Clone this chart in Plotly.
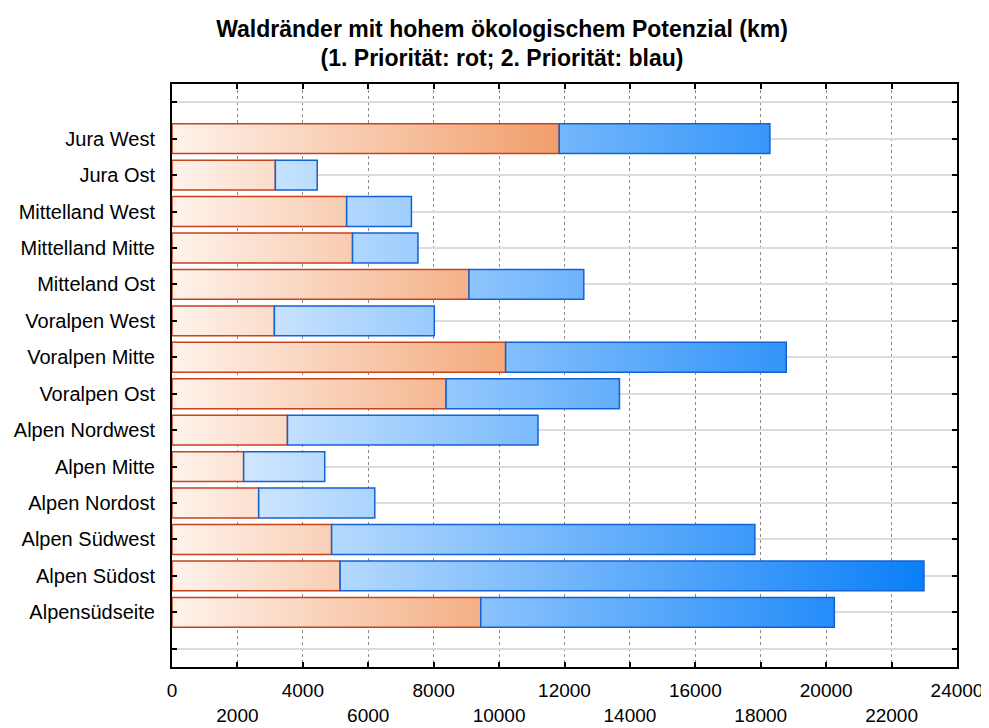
import plotly.graph_objects as go

# Waldränder mit hohem ökologischem Potenzial (km), von oben nach unten
regionen = ["Jura West", "Jura Ost", "Mittelland West", "Mittelland Mitte",
            "Mitteland Ost", "Voralpen West", "Voralpen Mitte", "Voralpen Ost",
            "Alpen Nordwest", "Alpen Mitte", "Alpen Nordost", "Alpen Südwest",
            "Alpen Südost", "Alpensüdseite"]
prio1 = [11840, 3160, 5340, 5520, 9080, 3130, 10200, 8380, 3530, 2190, 2650, 4880, 5140, 9440]
prio2 = [6440, 1280, 1980, 2000, 3510, 4890, 8580, 5300, 7660, 2480, 3550, 12940, 17850, 10810]

x_ticks = list(range(0, 24001, 2000))

n = len(regionen)
pos = [n - i for i in range(n)]          # Jura West oben
halb = 0.41                               # halbe Balkenhöhe


def rechtecke(start, laenge):
    xs, ys = [], []
    for s, l, y in zip(start, laenge, pos):
        xs += [s, s + l, s + l, s, s, None]
        ys += [y - halb, y - halb, y + halb, y + halb, y - halb, None]
    return xs, ys


x1, y1 = rechtecke([0] * n, prio1)
x2, y2 = rechtecke(prio1, prio2)

fig = go.Figure()
fig.add_trace(go.Scatter(
    x=x1, y=y1, mode="lines", fill="toself", name="1. Priorität",
    line=dict(color="#c8421c", width=1.5),
    fillgradient=dict(type="horizontal", start=0, stop=12000,
                      colorscale=[[0, "#fef3ec"], [1, "#f19d69"]]),
    hoverinfo="skip"))
fig.add_trace(go.Scatter(
    x=x2, y=y2, mode="lines", fill="toself", name="2. Priorität",
    line=dict(color="#1462d2", width=1.5),
    fillgradient=dict(type="horizontal", start=2000, stop=23000,
                      colorscale=[[0, "#d2e8ff"], [1, "#0a7ff8"]]),
    hoverinfo="skip"))

ticktext = [("%d" % v) if k % 2 == 0 else ("<br>%d" % v) for k, v in enumerate(x_ticks)]

# die Seite hat 8px Rand, daher 981x720
fig.update_layout(
    width=981, height=720,
    margin=dict(l=164, r=32, t=76, b=61),
    paper_bgcolor="white", plot_bgcolor="white",
    showlegend=False,
    font=dict(family="Liberation Sans, Arial, sans-serif", size=18, color="black"),
    title=dict(
        text="<b>Waldränder mit hohem ökologischem Potenzial (km)<br>"
             "(1. Priorität: rot; 2. Priorität: blau)</b>",
        x=0.5036, xanchor="center", xref="container",
        y=0.9604, yanchor="top",
        font=dict(size=23, family="Liberation Sans, Arial, sans-serif")),
)
fig.update_xaxes(
    range=[0, 24000], tickvals=x_ticks, ticktext=ticktext, automargin=False,
    showgrid=True, gridcolor="#8a8a8a", griddash="dot", gridwidth=1,
    zeroline=False, showline=True, linecolor="black", linewidth=2,
    mirror="allticks", ticks="inside", ticklen=5, tickwidth=2, tickcolor="black",
    ticklabelstandoff=5, tickfont=dict(size=19))
fig.update_yaxes(
    range=[-0.5, n + 1.5], tickvals=list(range(0, n + 2)), automargin=False,
    ticktext=[""] + regionen[::-1] + [""],
    showgrid=True, gridcolor="#dcdcdc", gridwidth=1.5,
    zeroline=False, showline=True, linecolor="black", linewidth=2,
    mirror="allticks", ticks="inside", ticklen=5, tickwidth=2, tickcolor="black",
    ticklabelstandoff=11, tickfont=dict(size=20))

fig.write_html("out.html")
